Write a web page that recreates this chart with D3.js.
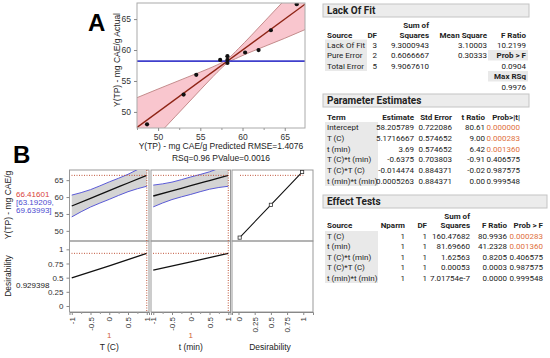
<!DOCTYPE html>
<html>
<head>
<meta charset="utf-8">
<script src="https://cdn.jsdelivr.net/npm/d3@7"></script>
<style>
  body { margin: 0; background: #fff; }
  svg { display: block; font-family: "Liberation Sans", Arial, sans-serif; }
  .tick text { fill: #333; }
  .tbl { font-family: Roboto, "Liberation Sans", sans-serif; }
</style>
</head>
<body>
<div id="chart"></div>
<script>
// ---- panel A: actual by predicted ----
var predicted = [48.69, 53.02, 54.52, 57.35, 58.21, 58.21, 58.21, 60.31, 61.90, 63.36, 66.42];
var actual    = [48.0, 52.8, 56.0, 58.4, 59.0, 58.4, 57.9, 59.6, 60.0, 63.2, 67.4];
var bandX  = [47.5, 50, 52, 54, 56, 57, 58.2, 59.5, 61, 63, 65, 67.4];
var bandLo = [42.7, 46.3, 49.2, 52.1, 55.0, 56.4, 57.9, 58.8, 59.7, 60.8, 61.9, 63.3];
var bandHi = [52.3, 53.7, 54.8, 55.9, 57.0, 57.6, 58.5, 60.2, 62.3, 65.2, 68.1, 71.5];
var fitX = [47.5, 67.4];
var meanY = 58.2;
var ticksA = [50, 55, 60, 65];
var minorA = [47.5, 52.5, 57.5, 62.5];

// ---- panel B: prediction profiler ----
var levels = [-1, -0.5, 0, 0.5, 1];
var tempY  = [57.35, 59.62, 61.90, 64.15, 66.42];
var tempLo = [54.13, 57.05, 59.32, 61.58, 63.19];
var tempHi = [60.57, 62.19, 64.48, 66.72, 69.64];
var timeY  = [60.31, 61.84, 63.36, 64.89, 66.42];
var timeLo = [57.09, 59.26, 60.78, 62.32, 63.19];
var timeHi = [63.53, 64.41, 65.94, 67.46, 69.64];
var desLevels = [-1, 0, 1];
var tempDes = [0.496, 0.71, 0.929];
var timeDes = [0.633, 0.78, 0.929];
var desFnD = [0.0183, 0.5, 0.9819];
var desFnY = [48.0, 57.7, 67.4];
var currentY = 66.41601;
var currentDes = 0.929398;
var ciText = ["[63.19209,", "69.63993]"];
var ticksProf = [-1, -0.5, 0, 0.5, 1];
var minorProf = [-0.75, -0.25, 0.25, 0.75];
var ticksYProf = [50, 55, 60, 65];
var ticksDes = [0, 0.25, 0.5, 0.75, 1];
var factorNames = ["T (C)", "t (min)", "Desirability"];

// ---- tables ----
var lofHead = ["Source", "DF", "Squares", "Mean Square", "F Ratio"];
var lofRows = [
  ["Lack Of Fit", "3", "9.3000943", "3.10003", "10.2199"],
  ["Pure Error", "2", "0.6066667", "0.30333", "Prob > F"],
  ["Total Error", "5", "9.9067610", "", "0.0904"],
  ["", "", "", "", "Max RSq"],
  ["", "", "", "", "0.9976"]
];
var peHead = ["Term", "Estimate", "Std Error", "t Ratio", "Prob>|t|"];
var peRows = [
  ["Intercept", "58.205789", "0.722086", "80.61", "0.000000"],
  ["T (C)", "5.1716667", "0.574652", "9.00", "0.000283"],
  ["t (min)", "3.69", "0.574652", "6.42", "0.001360"],
  ["T (C)*t (min)", "-0.6375", "0.703803", "-0.91", "0.406575"],
  ["T (C)*T (C)", "-0.014474", "0.884371", "-0.02", "0.987575"],
  ["t (min)*t (min)", "0.0005263", "0.884371", "0.00", "0.999548"]
];
var etHead = ["Source", "Nparm", "DF", "Squares", "F Ratio", "Prob > F"];
var etRows = [
  ["T (C)", "1", "1", "160.47682", "80.9936", "0.000283"],
  ["t (min)", "1", "1", "81.69660", "41.2328", "0.001360"],
  ["T (C)*t (min)", "1", "1", "1.62563", "0.8205", "0.406575"],
  ["T (C)*T (C)", "1", "1", "0.00053", "0.0003", "0.987575"],
  ["t (min)*t (min)", "1", "1", "7.01754e-7", "0.0000", "0.999548"]
];

var svg = d3.select("#chart").append("svg")
  .attr("width", 550).attr("height", 358);

function plain(d) { return String(d); }

drawPanelA();
drawProfiler();
drawTables();

function drawPanelA() {
  var x = d3.scaleLinear().domain([47.5, 67.4]).range([137, 305]);
  var y = d3.scaleLinear().domain([47.4, 67.6]).range([128, 3]);
  var g = svg.append("g");

  g.append("clipPath").attr("id", "clipA").append("rect")
    .attr("x", 137).attr("y", 3).attr("width", 168).attr("height", 125);

  var inner = g.append("g").attr("clip-path", "url(#clipA)");
  var band = bandX.map(function (d, i) { return {x: d, lo: bandLo[i], hi: bandHi[i]}; });

  inner.append("path").datum(band)
    .attr("fill", "#f8bcc5").attr("fill-opacity", 0.85)
    .attr("d", d3.area().curve(d3.curveMonotoneX)
      .x(function (d) { return x(d.x); })
      .y0(function (d) { return y(d.lo); })
      .y1(function (d) { return y(d.hi); }));
  ["lo", "hi"].forEach(function (k) {
    inner.append("path").datum(band)
      .attr("fill", "none").attr("stroke", "#c48c8c").attr("stroke-width", 1)
      .attr("d", d3.line().curve(d3.curveMonotoneX)
        .x(function (d) { return x(d.x); })
        .y(function (d) { return y(d[k]); }));
  });
  inner.append("line")
    .attr("x1", x(fitX[0])).attr("y1", y(fitX[0]))
    .attr("x2", x(fitX[1])).attr("y2", y(fitX[1]))
    .attr("stroke", "#8e2415").attr("stroke-width", 1.4);
  inner.append("line")
    .attr("x1", 137).attr("x2", 305)
    .attr("y1", y(meanY)).attr("y2", y(meanY))
    .attr("stroke", "#3f3fcc").attr("stroke-width", 1.6);
  inner.selectAll("circle").data(predicted).enter().append("circle")
    .attr("cx", function (d) { return x(d); })
    .attr("cy", function (d, i) { return y(actual[i]); })
    .attr("r", 2.1).attr("fill", "#111");

  g.append("rect").attr("x", 137).attr("y", 3).attr("width", 168).attr("height", 125)
    .attr("fill", "none").attr("stroke", "#aaa");

  var ax = g.append("g").attr("transform", "translate(0,128)")
    .call(d3.axisBottom(x).tickValues(ticksA).tickSize(3).tickFormat(plain));
  g.append("g").attr("transform", "translate(0,128)")
    .call(d3.axisBottom(x).tickValues(minorA).tickSize(2).tickFormat(""))
    .call(function (a) { a.select(".domain").remove(); a.selectAll("line").attr("stroke", "#999"); });
  var ay = g.append("g").attr("transform", "translate(137,0)")
    .call(d3.axisLeft(y).tickValues(ticksA).tickSize(3).tickFormat(plain));
  [ax, ay].forEach(function (a) {
    a.select(".domain").remove();
    a.selectAll("line").attr("stroke", "#888");
    a.selectAll("text").attr("font-size", 8.5);
  });

  g.append("text").attr("x", 88).attr("y", 31)
    .attr("font-size", 24).attr("font-weight", "bold")
    .text("A");
  g.append("text").attr("transform", "translate(120,60) rotate(-90)")
    .attr("text-anchor", "middle").attr("font-size", 8.5).attr("fill", "#222")
    .text("Y(TP) - mg CAE/g Actual");
  g.append("text").attr("x", 221).attr("y", 149)
    .attr("text-anchor", "middle").attr("font-size", 8.5).attr("fill", "#222")
    .text("Y(TP) - mg CAE/g Predicted RMSE=1.4076");
  g.append("text").attr("x", 221).attr("y", 161)
    .attr("text-anchor", "middle").attr("font-size", 8.5).attr("fill", "#222")
    .text("RSq=0.96 PValue=0.0016");
}

function drawProfiler() {
  var g = svg.append("g");
  var top = [170, 241], bot = [241, 312];
  var cols = [[69.5, 149], [151, 230.5], [232, 313]];
  var yTop = d3.scaleLinear().domain([47, 68]).range([top[1], top[0]]);
  var yBot = d3.scaleLinear().domain([-0.106, 1.147]).range([bot[1], bot[0]]);
  var dotCol = "#c0553a";

  cols.forEach(function (c) {
    [top, bot].forEach(function (r) {
      g.append("rect").attr("x", c[0]).attr("y", r[0])
        .attr("width", c[1] - c[0]).attr("height", r[1] - r[0])
        .attr("fill", "none").attr("stroke", "#999");
    });
  });

  var curves = [
    {y: tempY, lo: tempLo, hi: tempHi, des: tempDes},
    {y: timeY, lo: timeLo, hi: timeHi, des: timeDes}
  ];
  curves.forEach(function (cv, k) {
    var x = d3.scaleLinear().domain([-1.06, 1.06]).range(cols[k]);
    var pts = levels.map(function (l, i) { return {l: l, y: cv.y[i], lo: cv.lo[i], hi: cv.hi[i]}; });
    var id = "clipP" + k;
    g.append("clipPath").attr("id", id).append("rect")
      .attr("x", cols[k][0]).attr("y", top[0])
      .attr("width", cols[k][1] - cols[k][0]).attr("height", top[1] - top[0]);
    var inner = g.append("g").attr("clip-path", "url(#" + id + ")");
    inner.append("path").datum(pts)
      .attr("fill", "#d4d4d4")
      .attr("d", d3.area().curve(d3.curveNatural)
        .x(function (d) { return x(d.l); })
        .y0(function (d) { return yTop(d.lo); })
        .y1(function (d) { return yTop(d.hi); }));
    ["lo", "hi"].forEach(function (key) {
      inner.append("path").datum(pts)
        .attr("fill", "none").attr("stroke", "#5a5ad6").attr("stroke-width", 1)
        .attr("d", d3.line().curve(d3.curveNatural)
          .x(function (d) { return x(d.l); })
          .y(function (d) { return yTop(d[key]); }));
    });
    inner.append("path").datum(pts)
      .attr("fill", "none").attr("stroke", "#111").attr("stroke-width", 1.3)
      .attr("d", d3.line().curve(d3.curveNatural)
        .x(function (d) { return x(d.l); })
        .y(function (d) { return yTop(d.y); }));

    // desirability trace
    g.append("path").datum(desLevels)
      .attr("fill", "none").attr("stroke", "#111").attr("stroke-width", 1.3)
      .attr("d", d3.line()
        .x(function (d) { return x(d); })
        .y(function (d, i) { return yBot(cv.des[i]); }));

    // current settings (dotted)
    g.append("line").attr("x1", cols[k][0] + 2).attr("x2", x(1))
      .attr("y1", yTop(currentY)).attr("y2", yTop(currentY))
      .attr("stroke", dotCol).attr("stroke-dasharray", "1,1.5");
    g.append("line").attr("x1", cols[k][0] + 2).attr("x2", x(1))
      .attr("y1", yBot(currentDes)).attr("y2", yBot(currentDes))
      .attr("stroke", dotCol).attr("stroke-dasharray", "1,1.5");
    g.append("line").attr("x1", x(1)).attr("x2", x(1))
      .attr("y1", top[0]).attr("y2", bot[1])
      .attr("stroke", dotCol).attr("stroke-dasharray", "1,1.5");

    var ax = g.append("g").attr("transform", "translate(0," + bot[1] + ")")
      .call(d3.axisBottom(x).tickValues(ticksProf).tickSize(3).tickFormat(plain));
    styleRotAxis(ax);
    g.append("g").attr("transform", "translate(0," + bot[1] + ")")
      .call(d3.axisBottom(x).tickValues(minorProf).tickSize(2).tickFormat(""))
      .call(function (a) { a.select(".domain").remove(); a.selectAll("line").attr("stroke", "#999"); });
    var cx = (cols[k][0] + cols[k][1]) / 2;
    g.append("text").attr("x", cx).attr("y", 338).attr("text-anchor", "middle")
      .attr("font-size", 8).attr("fill", "#d0623a").text("1");
    g.append("text").attr("x", cx).attr("y", 350).attr("text-anchor", "middle")
      .attr("font-size", 8.5).attr("fill", "#222").text(factorNames[k]);
  });

  // desirability function panel
  var xd = d3.scaleLinear().domain([-0.1, 1.15]).range(cols[2]);
  var fn = desFnD.map(function (d, i) { return {d: d, y: desFnY[i]}; });
  g.append("line").attr("x1", cols[2][0] + 8).attr("x2", xd(1))
    .attr("y1", yTop(currentY)).attr("y2", yTop(currentY))
    .attr("stroke", dotCol).attr("stroke-dasharray", "1,1.5");
  g.append("path").datum(fn)
    .attr("fill", "none").attr("stroke", "#111").attr("stroke-width", 1.1)
    .attr("d", d3.line().x(function (d) { return xd(d.d); }).y(function (d) { return yTop(d.y); }));
  g.selectAll(".dfp").data(fn).enter().append("rect").attr("class", "dfp")
    .attr("x", function (d) { return xd(d.d) - 1.6; })
    .attr("y", function (d) { return yTop(d.y) - 1.6; })
    .attr("width", 3.2).attr("height", 3.2)
    .attr("fill", "#fff").attr("stroke", "#333").attr("stroke-width", 0.8);
  var axd = g.append("g").attr("transform", "translate(0," + bot[1] + ")")
    .call(d3.axisBottom(xd).tickValues(ticksDes).tickSize(3).tickFormat(plain));
  styleRotAxis(axd);
  g.append("text").attr("x", 270).attr("y", 350).attr("text-anchor", "middle")
    .attr("font-size", 8.5).attr("fill", "#222").text(factorNames[2]);

  // left axes
  var ayT = g.append("g").attr("transform", "translate(69.5,0)")
    .call(d3.axisLeft(yTop).tickValues(ticksYProf).tickSize(3).tickFormat(plain));
  var ayB = g.append("g").attr("transform", "translate(69.5,0)")
    .call(d3.axisLeft(yBot).tickValues(ticksDes).tickSize(3).tickFormat(plain));
  [ayT, ayB].forEach(function (a) {
    a.select(".domain").remove();
    a.selectAll("line").attr("stroke", "#888");
    a.selectAll("text").attr("font-size", 8);
  });

  g.append("text").attr("x", 13).attr("y", 163)
    .attr("font-size", 24).attr("font-weight", "bold").text("B");
  g.append("text").attr("transform", "translate(11,205) rotate(-90)")
    .attr("text-anchor", "middle").attr("font-size", 8.5).attr("fill", "#222")
    .text("Y(TP) - mg CAE/g");
  g.append("text").attr("transform", "translate(11,276) rotate(-90)")
    .attr("text-anchor", "middle").attr("font-size", 8.5).attr("fill", "#222")
    .text("Desirability");
  g.append("text").attr("x", 16).attr("y", 197).attr("font-size", 8)
    .attr("fill", "#d9413a").text(d3.format(".5f")(currentY));
  ciText.forEach(function (t, i) {
    g.append("text").attr("x", 16).attr("y", 205 + i * 8).attr("font-size", 8)
      .attr("fill", "#4a4ad0").text(t);
  });
  g.append("text").attr("x", 16).attr("y", 288).attr("font-size", 8)
    .attr("fill", "#222").text(d3.format(".6f")(currentDes));
}

function styleRotAxis(a) {
  a.select(".domain").attr("stroke", "#888");
  a.selectAll("line").attr("stroke", "#888");
  a.selectAll("text").attr("font-size", 8)
    .attr("transform", "rotate(-90)")
    .attr("text-anchor", "end").attr("dy", "0.32em")
    .attr("x", -5).attr("y", 0);
}

function drawTables() {
  var g = svg.append("g").attr("class", "tbl").attr("font-size", 8).attr("fill", "#222");

  // Lack Of Fit
  titleBox(g, 323, 4, 206, "Lack Of Fit");
  var lofX = [327, 377, 429, 487, 526];
  g.append("text").attr("x", 429).attr("y", 28).attr("text-anchor", "end")
    .attr("font-weight", "bold").text("Sum of");
  rowText(g, lofHead, lofX, 37.5, true, []);
  g.append("rect").attr("x", 325).attr("y", 39.5).attr("width", 42).attr("height", 31.5).attr("fill", "#e9e9e9");
  g.append("rect").attr("x", 488).attr("y", 50).attr("width", 40).attr("height", 10.5).attr("fill", "#e9e9e9");
  g.append("rect").attr("x", 488).attr("y", 71).attr("width", 40).attr("height", 10.5).attr("fill", "#e9e9e9");
  lofRows.forEach(function (r, i) {
    var bold = (i === 1 || i === 3) ? [4] : [];
    rowText(g, r, lofX, 47.5 + i * 10.5, false, bold);
  });

  // Parameter Estimates
  titleBox(g, 323, 94, 206, "Parameter Estimates");
  var peX = [327, 414, 452, 485, 520];
  rowText(g, peHead, peX, 119.5, true, []);
  g.append("rect").attr("x", 325).attr("y", 122).attr("width", 53).attr("height", 64).attr("fill", "#e9e9e9");
  peRows.forEach(function (r, i) {
    var t = rowText(g, r, peX, 130 + i * 10.8, false, []);
    if (i < 3) t[4].attr("fill", "#e0703e");
  });

  // Effect Tests
  titleBox(g, 323, 195, 224, "Effect Tests");
  var etX = [327, 405, 427, 470, 507, 543];
  g.append("text").attr("x", 470).attr("y", 218.5).attr("text-anchor", "end")
    .attr("font-weight", "bold").text("Sum of");
  rowText(g, etHead, etX, 228, true, []);
  g.append("rect").attr("x", 325).attr("y", 231).attr("width", 53).attr("height", 52).attr("fill", "#e9e9e9");
  etRows.forEach(function (r, i) {
    var t = rowText(g, r, etX, 239 + i * 10.4, false, []);
    if (i < 2) t[5].attr("fill", "#e0703e");
  });
}

function titleBox(g, x, y, w, title) {
  g.append("rect").attr("x", x).attr("y", y).attr("width", w).attr("height", 13)
    .attr("fill", "#ececec").attr("stroke", "#c4c4c4");
  g.append("text").attr("x", x + 4).attr("y", y + 10).attr("font-size", 10)
    .attr("font-weight", "bold").text(title);
}

function rowText(g, cells, xs, y, bold, boldIdx) {
  return cells.map(function (c, j) {
    return g.append("text").attr("x", xs[j]).attr("y", y)
      .attr("text-anchor", j === 0 ? "start" : "end")
      .attr("font-weight", (bold || boldIdx.indexOf(j) >= 0) ? "bold" : "normal")
      .text(c);
  });
}
</script>
</body>
</html>
